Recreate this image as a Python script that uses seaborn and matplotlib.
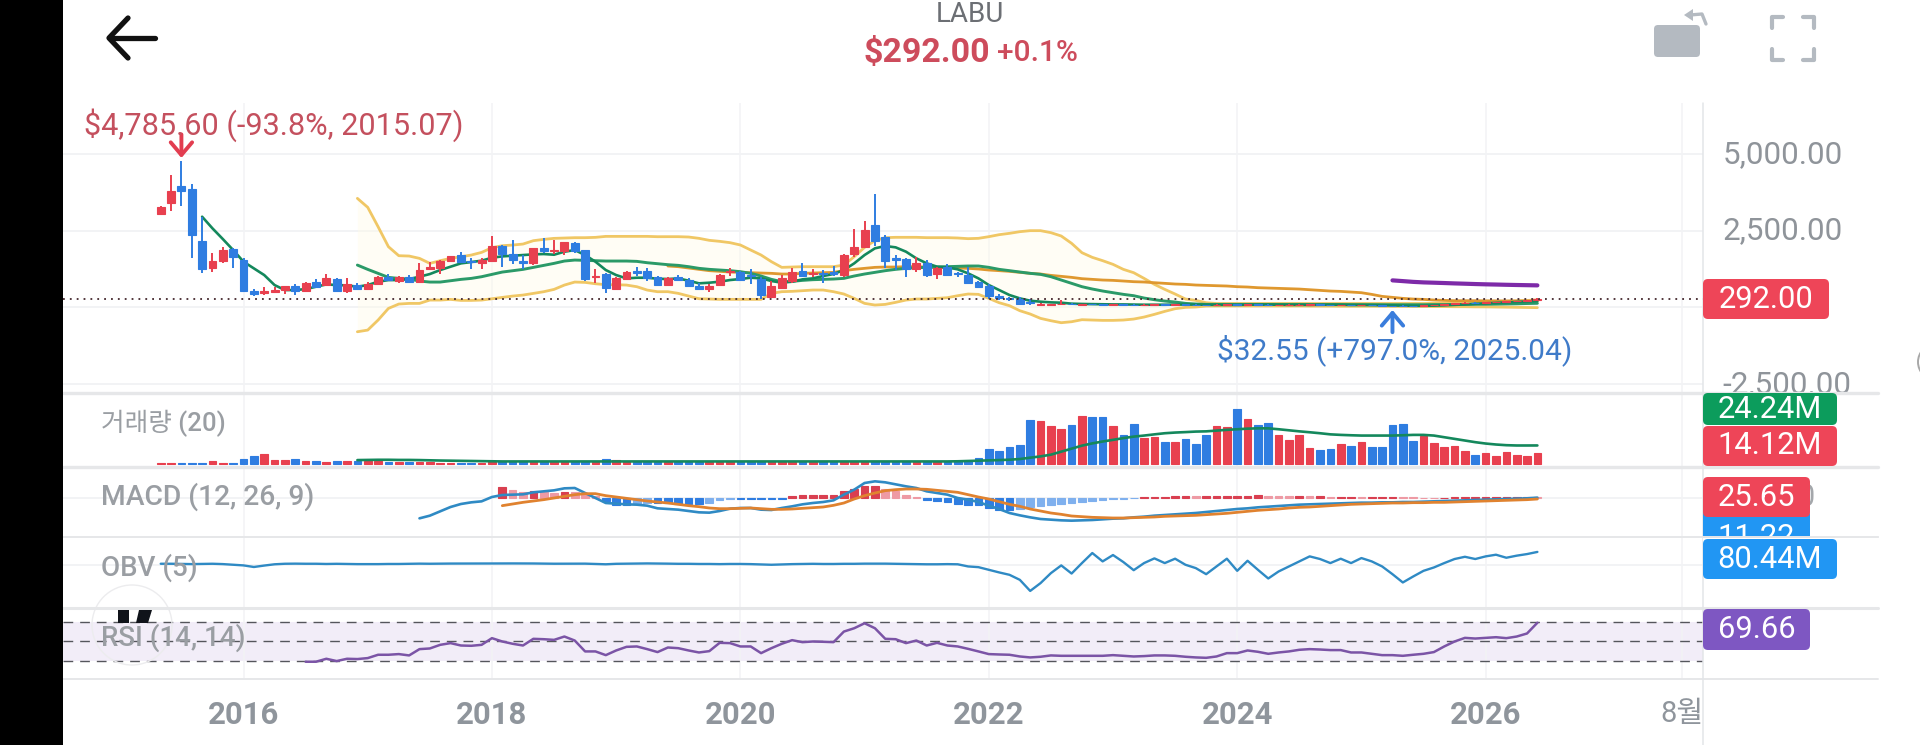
import numpy as np
import matplotlib
matplotlib.use("Agg")
import matplotlib.pyplot as plt
import seaborn as sns
from matplotlib.patches import Circle, FancyBboxPatch, Polygon, Rectangle
from matplotlib.transforms import ScaledTranslation

# x axis is months counted from 2016-01, every series below has its first month next to it
CANDLE_START = -8
OPEN = [3060, 3394, 3959, 3872, 2155, 1285, 1525, 1894,
        1546, 546, 459, 514, 568, 688, 546, 840, 731, 927,
        535, 742, 611, 763, 1003, 872, 1003, 829, 1242, 1274,
        1514, 1698, 1514, 1438, 1525, 2003, 1731, 1525, 1459, 1948,
        1829, 1829, 2112, 1861, 981, 1090, 590, 927, 1198, 1198,
        1003, 731, 1004, 895, 710, 591, 732, 1145, 1145, 1069,
        917, 352, 645, 873, 1178, 1091, 1134, 1145, 1047, 1732,
        1982, 2678, 2287, 1602, 1569, 1243, 1439, 1091, 1330, 1113,
        1058, 841, 710, 373, 308, 276, 167, 91, 95, 100,
        120, 95, 115, 100, 85, 115, 95, 85, 90, 105,
        90, 105, 90, 80, 75, 90, 110, 90, 110, 90,
        75, 85, 80, 85, 100, 80, 70, 85, 65, 80,
        65, 50, 55, 45, 45, 70, 90, 115, 135, 160,
        140, 170, 185, 200, 220, 246]
CLOSE = [3260, 3786, 3807, 2372, 1253, 1503, 1861, 1655,
         535, 427, 525, 568, 688, 535, 807, 677, 948, 535,
         753, 590, 774, 1001, 894, 992, 840, 1220, 1307, 1525,
         1666, 1481, 1470, 1557, 1992, 1753, 1557, 1448, 1927, 1840,
         1861, 2122, 1851, 938, 1024, 622, 959, 1155, 1133, 948,
         731, 970, 906, 700, 591, 710, 1058, 1189, 895, 1026,
         406, 710, 949, 1156, 1037, 1134, 1091, 1091, 1700, 1982,
         2526, 2178, 1526, 1547, 1243, 1450, 1058, 1297, 1058, 1080,
         808, 667, 363, 308, 265, 123, 134, 123, 120, 125,
         105, 115, 100, 90, 115, 95, 85, 95, 105, 90,
         105, 90, 80, 75, 90, 110, 95, 110, 90, 75,
         90, 95, 90, 100, 80, 75, 85, 70, 80, 65,
         50, 40, 45, 42, 70, 90, 115, 135, 160, 140,
         170, 190, 205, 220, 245, 292]
HIGH = [3320, 4318, 4785.6, 4014, 2959, 1764, 1981, 1927,
        1601, 600, 655, 677, 699, 753, 829, 927, 1090, 970,
        948, 785, 829, 1024, 1079, 1024, 1046, 1438, 1492, 1546,
        1688, 1818, 1622, 1601, 2329, 2035, 2199, 1709, 1948, 2275,
        2199, 2144, 2133, 1872, 1242, 1112, 981, 1198, 1307, 1274,
        1024, 1003, 1047, 949, 787, 754, 1091, 1276, 1200, 1243,
        1004, 873, 1058, 1297, 1460, 1243, 1221, 1363, 1732, 2569,
        2819, 3689, 2374, 1710, 1602, 1634, 1547, 1330, 1417, 1167,
        1330, 873, 765, 428, 352, 330, 276, 156, 130, 240,
        135, 120, 130, 115, 125, 125, 110, 105, 110, 115,
        110, 115, 100, 95, 100, 115, 120, 115, 120, 100,
        95, 100, 100, 105, 105, 90, 90, 95, 85, 90,
        75, 60, 65, 60, 75, 95, 120, 140, 165, 170,
        175, 195, 210, 225, 250, 310]
LOW = [3060, 3144, 3307, 1601, 1112, 1166, 1459, 1274,
       514, 372, 416, 503, 438, 416, 525, 655, 709, 525,
       481, 568, 590, 731, 862, 807, 807, 807, 1220, 1090,
       1481, 1438, 1253, 1253, 1503, 1329, 1416, 1242, 1394, 1764,
       1742, 1698, 1785, 872, 785, 481, 579, 894, 1024, 872,
       720, 709, 873, 678, 569, 515, 710, 1037, 873, 765,
       276, 341, 623, 787, 1004, 1004, 787, 1026, 982, 1656,
       1928, 2004, 1276, 1221, 1004, 1167, 1004, 928, 1047, 1004,
       765, 645, 265, 243, 221, 113, 91, 58, 90, 90,
       95, 85, 90, 85, 80, 85, 80, 75, 85, 85,
       85, 80, 75, 70, 70, 85, 85, 85, 80, 70,
       70, 80, 75, 80, 75, 70, 65, 65, 60, 60,
       45, 32.55, 35, 38, 42, 65, 85, 105, 125, 130,
       135, 160, 175, 195, 215, 240]

# volume in millions
VOLUME = [0.7, 0.7, 0.7, 0.7, 0.7, 4, 1, 1,
          6.6, 10.6, 13.2, 5.3, 5.3, 6.2, 4, 3.5, 2.6, 4,
          3.5, 3, 3.5, 3, 2.5, 2, 2, 2.5, 2.5, 1.5,
          1.5, 1.5, 1.5, 1.5, 2, 2, 2, 2, 2, 2,
          2, 2, 2.5, 2, 2, 6.2, 4.8, 2, 2.5, 2.5,
          2, 2, 2, 2, 2, 2, 2, 2, 2, 2,
          2.5, 3, 2.5, 2, 2, 2, 2, 2, 2.5, 2.5,
          2.5, 3, 2.5, 2.5, 2, 2.5, 2.5, 2, 2.5, 3,
          3.5, 7.9, 19.4, 17.2, 21.6, 24.2, 57.6, 56.3, 50.2, 46.2,
          51, 63.4, 62, 62, 50, 37.8, 52.4, 34.8, 35.2, 28.6,
          28.6, 32.6, 26.4, 38.3, 50.2, 48.4, 72.6, 59, 52, 54,
          38.3, 31.7, 38.3, 20.7, 18.5, 19.4, 26, 23.8, 28.6, 22.4,
          22.4, 51, 52.4, 30.8, 37.4, 27.3, 22, 22.9, 17.2, 11.9,
          14, 10.6, 15.8, 11.9, 10.6, 14.12]
VOLUME_MA_START = 11
VOLUME_MA = [4.8, 5, 5.2, 5.2, 5, 5, 4.8, 4.5, 4.2,
             4, 3.8, 3.6, 3.4, 3.2, 3, 3, 3, 3, 3,
             3, 3, 3, 3, 3, 3, 3, 3, 3, 3,
             3, 3, 3, 3, 3, 3, 3, 3, 3, 3,
             3, 3, 3, 3, 3, 3, 3, 3, 3, 3,
             3, 3, 3, 3, 3, 3, 3, 3, 3, 3.2,
             3.6, 4, 4.4, 4.8, 5.3, 6.2, 8, 9.7, 12, 16,
             20, 24, 27, 29.5, 31.7, 34, 36, 37.4, 39, 40.5,
             41.4, 42, 42.7, 43, 44, 45, 45.8, 46.6, 47, 47,
             45.8, 44.4, 43, 41.8, 40.5, 39, 38.3, 37.8, 37.4, 37.4,
             37.4, 37.4, 37.8, 38.3, 38.3, 37.4, 35.2, 33, 30.8, 28.6,
             26.8, 25.5, 24.6, 24.2, 24.2, 24.24]

SHORT_MA_START = -4
SHORT_MA = [2959, 2579, 2231, 1872,
            1492, 1274, 1057, 731, 568, 568, 600, 677, 753, 731,
            720, 677, 731, 840, 894, 894, 927, 1003, 1090, 1220,
            1329, 1438, 1481, 1525, 1622, 1666, 1688, 1709, 1731, 1742,
            1720, 1818, 1872, 1709, 1492, 1220, 1057, 948, 970, 970,
            938, 927, 949, 873, 787, 808, 841, 895, 928, 971,
            949, 863, 808, 841, 917, 949, 1026, 1091, 1221, 1439,
            1710, 1928, 2004, 1960, 1819, 1602, 1439, 1330, 1308, 1243,
            1113, 949, 732, 569, 406, 297, 221, 189, 167, 156,
            125, 115, 110, 105, 100, 100, 95, 90, 90, 90,
            95, 95, 95, 90, 85, 85, 85, 90, 95, 95,
            90, 85, 85, 85, 90, 90, 90, 85, 85, 80,
            75, 70, 60, 55, 55, 60, 70, 85, 100, 120,
            135, 150, 165, 180, 195, 215]

BAND_START = 11
MID_BAND = [1383, 1242, 1112, 981, 948, 927, 862, 829, 829,
            872, 916, 948, 1003, 1079, 1155, 1198, 1242, 1307, 1372,
            1438, 1514, 1546, 1536, 1525, 1514, 1514, 1514, 1503, 1459,
            1427, 1395, 1373, 1330, 1276, 1243, 1221, 1200, 1167, 1113,
            1026, 917, 841, 851, 884, 906, 917, 928, 949, 1026,
            1091, 1145, 1200, 1243, 1276, 1297, 1308, 1319, 1330, 1341,
            1352, 1352, 1308, 1243, 1200, 1156, 1113, 1080, 1004, 895,
            787, 678, 602, 537, 482, 428, 384, 308, 254, 210,
            178, 134, 113, 101, 100, 100, 100, 100, 100, 100,
            100, 100, 100, 95, 95, 95, 95, 90, 90, 90,
            90, 90, 90, 90, 90, 95, 95, 100, 100, 105,
            105, 110, 115, 120, 130, 137]
UPPER_BAND = [3557, 3264, 2633, 1981, 1688, 1677, 1601, 1438, 1525,
              1601, 1655, 1709, 1796, 1948, 2014, 2035, 2068, 2177, 2220,
              2253, 2264, 2275, 2275, 2286, 2318, 2318, 2318, 2318, 2318,
              2307, 2308, 2308, 2297, 2254, 2189, 2156, 2113, 2037, 1873,
              1710, 1493, 1308, 1319, 1330, 1330, 1330, 1330, 1384, 1656,
              1960, 2178, 2276, 2287, 2287, 2287, 2276, 2276, 2276, 2265,
              2243, 2254, 2308, 2373, 2417, 2471, 2504, 2504, 2439, 2330,
              2091, 1786, 1634, 1526, 1406, 1243, 1134, 949, 754, 591,
              439, 276, 232, 156, 130, 130, 130, 130, 130, 130,
              130, 130, 130, 130, 130, 130, 130, 130, 130, 130,
              130, 130, 130, 130, 130, 135, 140, 150, 160, 170,
              180, 190, 200, 215, 230, 250]
LOWER_BAND = [-791, -736, -410, -30, 112, 133, 133, 242, 242,
              264, 231, 231, 242, 285, 329, 372, 405, 459, 514,
              590, 731, 829, 818, 774, 742, 742, 731, 677, 568,
              514, 515, 460, 373, 286, 276, 265, 265, 265, 265,
              265, 460, 515, 526, 547, 569, 569, 515, 439, 297,
              134, 80, 101, 167, 243, 276, 276, 297, 319, 384,
              439, 428, 297, 156, 58, -105, -213, -355, -431, -496,
              -464, -398, -409, -420, -420, -409, -377, -312, -224, -127,
              -40, 4, 15, 47, 50, 50, 50, 50, 50, 50,
              50, 50, 50, 45, 45, 45, 40, 40, 40, 40,
              40, 35, 35, 35, 35, 30, 30, 25, 25, 20,
              20, 15, 10, 5, 0, -5]

ORANGE_MA_START = 41
ORANGE_MA = [1352, 1330, 1287, 1243, 1200, 1178, 1156, 1145, 1134,
             1123, 1113, 1091, 1091, 1113, 1123, 1134, 1145, 1200, 1243,
             1276, 1308, 1319, 1319, 1330, 1330, 1319, 1308, 1297, 1287,
             1276, 1254, 1221, 1200, 1178, 1145, 1113, 1091, 1047, 1015,
             982, 939, 917, 895, 884, 863, 841, 830, 808, 787,
             765, 754, 732, 721, 710, 700, 678, 667, 645, 634,
             623, 612, 601, 579, 558, 536, 525, 503, 482, 427,
             362, 330, 297, 275, 264, 243, 232, 221, 221, 221,
             218, 216, 214, 212, 211, 210]

PURPLE_MA_START = 111
PURPLE_MA = [884, 860, 835, 818, 808, 797, 785, 775, 764, 755, 748, 740, 733, 727, 721]

MACD_START = 17
MACD = [-610, -530, -400,
        -270, -180, -130, -100, 30, 90, 100, 110, 170, 200,
        230, 290, 300, 150, 0, -150, -170, -190, -200, -230,
        -310, -330, -350, -390, -430, -440, -390, -320, -300, -300,
        -350, -360, -300, -250, -190, -150, -120, -70, 100, 250,
        450, 500, 470, 410, 350, 300, 200, 150, 100, 0,
        -50, -120, -230, -330, -450, -520, -580, -630, -650, -670,
        -680, -670, -660, -640, -620, -610, -580, -560, -530, -510,
        -490, -470, -450, -420, -390, -360, -330, -310, -280, -260,
        -240, -220, -200, -190, -180, -170, -160, -150, -140, -140,
        -130, -130, -120, -120, -110, -100, -90, -80, -70, -60,
        -50, -40, -30, -20, -10, 11.22]
SIGNAL_START = 25
SIGNAL = [-230, -180, -130, -90, -50,
          0, 50, 100, 130, 130, 70, 30, -10, -50, -90,
          -120, -150, -190, -230, -260, -300, -320, -320, -310, -300,
          -320, -340, -340, -330, -310, -290, -270, -220, -150, -30,
          70, 150, 220, 250, 270, 270, 260, 230, 200, 170,
          100, 30, -30, -110, -190, -250, -330, -390, -450, -490,
          -540, -560, -580, -590, -600, -600, -590, -580, -570, -550,
          -540, -530, -520, -500, -480, -460, -430, -400, -370, -350,
          -330, -300, -280, -270, -250, -230, -210, -190, -180, -170,
          -160, -150, -150, -140, -140, -130, -130, -120, -110, -100,
          -90, -80, -70, -60, -50, -30]
HIST = [320, 250, 180, 200, 190,
        150, 190, 180, 130, 50, -100, -200, -220, -180, -150,
        -150, -150, -170, -170, -170, -150, -50, -20, -20, -20,
        -20, -20, -20, 60, 90, 90, 90, 100, 200, 270,
        370, 370, 270, 200, 90, 40, -70, -100, -130, -170,
        -200, -220, -300, -350, -350, -320, -270, -250, -220, -180,
        -150, -120, -80, -60, -40, -20, -10, 20, 30, 40,
        60, 60, 50, 50, 50, 50, 60, 70, 80, 70,
        60, 50, 60, 50, 50, 40, 40, 40, 30, 30,
        30, 30, 25, 20, 15, 10, 15, 30, 30, 30,
        30, 30, 30, 30, 30, 25.65]

OBV_START = -8
OBV = [6.3, 6.3, 5, 4.2, 5, 6.3, 4.2, 0,
       -4, -14, -5, 3, 6.3, 7, 6.3, 6.3, 5, 6,
       5, 4, 4, 4, 5, 5, 6, 7, 6.3, 7,
       7.5, 7.5, 7.5, 8, 8, 8.4, 8.4, 8.4, 8, 7,
       6.5, 6.5, 7, 7, 5, 3, 6, 7, 8, 8.4,
       8, 7, 6, 6, 5, 5, 4, 5, 5, 4,
       2, 0, 2, 4, 5, 6, 5, 5, 6, 6,
       7, 7, 7, 6, 5, 4, 3, 3, 4, 3,
       -10.5, -15, -31.5, -48, -63, -94.5, -164, -115, -52.5, -4,
       -55, 10.5, 73.5, 21, 61, 17, -34, 10.5, 40, 10.5,
       38, 0, -21, -59, -10.5, 38, -38, 25, -31.5, -86,
       -42, -10.5, 21, 52.5, 36, 10.5, 38, 10.5, 42, 21,
       -10.5, -59, -111, -73.5, -38, -17, 10.5, 36, 50, 36,
       52.5, 63, 44, 57, 67, 80.44]

RSI_START = 6
RSI = [28.8, 28.8, 31.9, 29.5,
       31.9, 31.6, 32.6, 36.1, 36.1, 36.8, 35.4, 42, 42.7, 46.5,
       48.3, 45.8, 45.5, 46.5, 53.5, 50, 47.6, 45.8, 52.8, 52.4,
       51.7, 55.2, 51, 39.6, 39.6, 35.7, 40.6, 44.4, 44.8, 42,
       38.9, 43.7, 43, 40.6, 38.5, 39.9, 48.6, 48.3, 44.8, 44.8,
       37.8, 43, 47.6, 51.4, 49.3, 50, 49.7, 49.3, 60.4, 63.9,
       69.1, 63.9, 52.8, 52.4, 48.3, 51, 45.8, 48.6, 45.8, 44.8,
       42.3, 39.6, 36.8, 36.4, 36.1, 34.3, 33.3, 34, 35.4, 35,
       35, 35, 35, 35, 35.7, 35, 34.3, 34.7, 35.4, 35.4,
       35, 34, 33.3, 32.9, 34.3, 37.8, 37.8, 40.6, 39.2, 37.1,
       38.5, 39.6, 41.3, 42, 41.6, 41, 41, 38.5, 38.5, 37.1,
       35.7, 35.7, 35, 36.1, 37.1, 38.9, 44.8, 50, 53.8, 53.1,
       53.8, 54.5, 53.5, 55.2, 58.4, 69.66]

LAST_PRICE = 292
LOW_MONTH = 111
HIGH_MONTH = -6

X_TICKS = [0, 24, 48, 72, 96, 120, 139]
X_LABELS = ["2016", "2018", "2020", "2022", "2024", "2026", "8월"]
PRICE_TICKS = [5000, 2500, 0, -2500]
PRICE_LABELS = ["5,000.00", "2,500.00", "", "-2,500.00"]

WIDTH, HEIGHT = 1920, 745
XLIM = (-17.44, 141.0)
RED, BLUE = "#e8404f", "#2f7de1"
PALE_RED, PALE_BLUE = "#ee9aa4", "#7fb0ee"
GRID = "#f2f3f5"
GREY = "#8f949a"
FONT = ["Roboto", "Noto Sans CJK KR", "DejaVu Sans"]


def months(start, values):
    return np.arange(start, start + len(values))


def panel(fig, top, bottom, ylim):
    """Axes placed by pixel rows of the picture"""
    ax = fig.add_axes([63 / WIDTH, 1 - bottom / HEIGHT, (1703 - 63) / WIDTH, (bottom - top) / HEIGHT])
    ax.set_xlim(*XLIM)
    ax.set_ylim(*ylim)
    ax.set_xticks(X_TICKS)
    ax.set_xticklabels([])
    ax.set_yticks([])
    ax.tick_params(length=0)
    ax.grid(axis="x", color=GRID, lw=1.1)
    ax.set_axisbelow(True)
    ax.patch.set_alpha(0)
    sns.despine(ax=ax, left=True, bottom=True)
    return ax


def line(ax, start, values, color, lw, z=4):
    sns.lineplot(x=months(start, values), y=values, color=color, lw=lw, errorbar=None, ax=ax, zorder=z)


def bars(ax, x, y, shades, palette):
    sns.barplot(x=x, y=y, hue=shades, palette=palette, native_scale=True, dodge=False,
                legend=False, errorbar=None, saturation=1, width=0.74, ax=ax, zorder=2)
    # tiny values still show as a dash
    for patch in ax.patches:
        patch.set_edgecolor(patch.get_facecolor())
        patch.set_linewidth(0.8)
    ax.set_xlim(*XLIM)
    ax.set_xlabel("")
    ax.set_ylabel("")


def draw_price(ax):
    x = months(CANDLE_START, CLOSE)
    op, cl, hi, lo = map(np.array, (OPEN, CLOSE, HIGH, LOW))
    colors = np.where(cl >= op, RED, BLUE)

    ax.set_yticks(PRICE_TICKS)
    ax.set_yticklabels(PRICE_LABELS, fontsize=22.6, color=GREY)
    ax.yaxis.tick_right()
    ax.tick_params(axis="y", length=0, pad=14)
    ax.grid(axis="y", color=GRID, lw=1.4)
    up = ScaledTranslation(0, 2 / 72, ax.figure.dpi_scale_trans)
    for label in ax.get_yticklabels():
        label.set_transform(label.get_transform() + up)

    band_x = months(BAND_START, MID_BAND)
    ax.fill_between(band_x, LOWER_BAND, UPPER_BAND, color="#fffbe8", alpha=0.4, lw=0, zorder=1)
    line(ax, BAND_START, UPPER_BAND, "#f0c765", 2.0, 2)
    line(ax, BAND_START, LOWER_BAND, "#f0c765", 2.0, 2)

    line(ax, ORANGE_MA_START, ORANGE_MA, "#df982f", 2.0)
    line(ax, BAND_START, MID_BAND, "#2b9a68", 2.1)
    line(ax, SHORT_MA_START, SHORT_MA, "#14885c", 1.9)
    line(ax, PURPLE_MA_START, PURPLE_MA, "#7d2aa8", 3.0)

    # candles sit over the moving averages
    ax.vlines(x, lo, hi, colors=colors, lw=1.4, zorder=5)
    ax.bar(x, np.abs(cl - op), bottom=np.minimum(op, cl), width=0.76, color=colors,
           edgecolor=colors, lw=0.8, zorder=5)

    ax.axhline(LAST_PRICE, color="#43262c", lw=1.3, ls=(0, (1, 2.8)), zorder=6)

    ax.annotate("", xy=(HIGH_MONTH, 4873), xytext=(0, 17), textcoords="offset points",
                annotation_clip=False,
                arrowprops=dict(arrowstyle="->,head_width=0.55,head_length=0.65", color="#e23d50", lw=2.8,
                                shrinkA=0, shrinkB=0, mutation_scale=14))
    ax.annotate("", xy=(LOW_MONTH, -81), xytext=(0, -16), textcoords="offset points",
                annotation_clip=False,
                arrowprops=dict(arrowstyle="->,head_width=0.55,head_length=0.65", color="#3a7ddc", lw=2.8,
                                shrinkA=0, shrinkB=0, mutation_scale=14))


def draw_volume(ax):
    shades = np.where(np.array(CLOSE) >= np.array(OPEN), "up", "down")
    bars(ax, months(CANDLE_START, VOLUME), VOLUME, shades, {"up": RED, "down": BLUE})
    line(ax, VOLUME_MA_START, VOLUME_MA, "#14885c", 1.9)


def draw_macd(ax):
    ax.axhline(0, color=GRID, lw=1.4, zorder=0)
    hist = np.array(HIST, dtype=float)
    grows = np.abs(hist) >= np.abs(np.r_[hist[0], hist[:-1]])
    shades = np.where(hist >= 0, np.where(grows, "r", "pr"), np.where(grows, "b", "pb"))
    bars(ax, months(SIGNAL_START, HIST), HIST, shades,
         {"r": "#d93f50", "pr": PALE_RED, "b": BLUE, "pb": PALE_BLUE})
    line(ax, MACD_START, MACD, "#2f8ac4", 1.9)
    line(ax, SIGNAL_START, SIGNAL, "#e0822f", 2.0)


def draw_obv(ax):
    ax.axhline(0, color=GRID, lw=1.4, zorder=0)
    line(ax, OBV_START, OBV, "#2f8ac4", 1.7)


def draw_rsi(ax):
    ax.axhspan(30, 70, color="#f2edf8", lw=0, zorder=0)
    for level in (70, 50, 30):
        ax.axhline(level, color="#55565c", lw=1.0, ls=(0, (7, 5)), zorder=1)
    line(ax, RSI_START, RSI, "#7b54a6", 1.8)
    ax.set_xticklabels(X_LABELS, fontsize=22.4, color="#8f959c", fontweight="bold")
    ax.tick_params(axis="x", pad=15)
    ax.get_xticklabels()[-1].set_fontweight("normal")
    ax.get_xticklabels()[-1].set_fontsize(21)


def label_box(over, x0, x1, y0, y1, color, text, text_y=None, z=6):
    over.add_patch(FancyBboxPatch((x0, y0), x1 - x0, y1 - y0, boxstyle="round,pad=0,rounding_size=5",
                                  fc=color, ec="none", zorder=z))
    over.text((x0 + x1) / 2, text_y if text_y else (y0 + y1) / 2, text, color="white", fontsize=22.2,
              ha="center", va="center", zorder=z + 1)


def draw_overlay(fig):
    over = fig.add_axes([0, 0, 1, 1], zorder=10)
    over.set_xlim(0, WIDTH)
    over.set_ylim(HEIGHT, 0)
    over.axis("off")

    # separators between panels and right border
    for y, lw in [(393, 2.4), (467, 2.4), (537, 1.4), (608, 2.2), (679, 1.4)]:
        over.plot([63, 1878], [y, y], color="#e6e7e9", lw=lw, zorder=1)
    over.plot([1703, 1703], [103, HEIGHT], color="#e3e5e8", lw=1.1, zorder=1)

    # header
    over.text(970, 15, "LABU", fontsize=20, color="#6c6f74", ha="center", va="center")
    over.text(990, 53, "$292.00", fontsize=24.4, color="#cd4c5c", ha="right", va="center", fontweight="bold")
    over.text(997, 53, "+0.1%", fontsize=21.5, color="#cd4c5c", ha="left", va="center", fontweight="medium")

    # back arrow
    over.plot([110, 155], [38, 38], color="#111111", lw=3.8, solid_capstyle="round")
    over.plot([128, 109, 128], [18, 38, 58], color="#111111", lw=3.8, solid_capstyle="round",
              solid_joinstyle="round")

    # rotate icon
    over.add_patch(FancyBboxPatch((1654, 25), 46, 32, boxstyle="round,pad=0,rounding_size=4", fc="#b4bac1", ec="none"))
    over.plot([1690, 1702, 1706], [15, 14, 24], color="#b4bac1", lw=2.4)
    over.add_patch(Polygon([[1684, 15], [1693, 9], [1693, 21]], fc="#b4bac1", ec="none"))

    # full screen icon
    for cx, cy, dx, dy in [(1772, 17, 1, 1), (1814, 17, -1, 1), (1772, 60, 1, -1), (1814, 60, -1, -1)]:
        over.plot([cx + dx * 11, cx, cx], [cy, cy, cy + dy * 11], color="#b4bac1", lw=3.0,
                  solid_capstyle="round", solid_joinstyle="round")

    # annotations of high and low
    over.text(84, 125, "$4,785.60 (-93.8%, 2015.07)", fontsize=22.1, color="#c4505e", va="center")
    over.text(1217, 350, "$32.55 (+797.0%, 2025.04)", fontsize=21.5, color="#3f7bc9", va="center")

    # panel names
    names = [("거래량 (20)", 423, 18.5), ("MACD (12, 26, 9)", 497, 20.3), ("OBV (5)", 568, 20), ("RSI (14, 14)", 638, 20)]
    for name, y, size in names:
        over.text(101, y, name, fontsize=size, color="#9a9ea3", va="center", fontweight="medium")

    # floating button leftovers on the screenshot
    over.add_patch(Circle((132, 625), 40, fc="none", ec="#ececee", lw=1, zorder=0))
    over.add_patch(Polygon([[118, 610], [129, 610], [129, 623], [118, 623]], fc="#10131a", ec="none"))
    over.add_patch(Polygon([[139, 610], [152, 610], [148, 623], [136, 623]], fc="#10131a", ec="none"))
    over.add_patch(Circle((1936, 362), 18, fc="none", ec="#a8a8a8", lw=1.4))

    # value labels on the right
    over.text(1806, 498, "0", fontsize=22, color="#a4a7ab", ha="center", va="center", zorder=5)
    label_box(over, 1703, 1829, 279, 319, "#ee4558", "292.00")
    label_box(over, 1703, 1837, 393, 425, "#0c9c5c", "24.24M", 409)
    label_box(over, 1703, 1837, 426, 466, "#ee4558", "14.12M")
    label_box(over, 1703, 1810, 510, 545, "#2196f3", "11.22", 537)
    over.add_patch(Rectangle((1703, 538), 140, 10, fc="white", ec="none", zorder=8))
    over.plot([1703, 1878], [537, 537], color="#e6e7e9", lw=1.4, zorder=8)
    label_box(over, 1703, 1810, 477, 517, "#ee4558", "25.65", z=9)
    label_box(over, 1703, 1837, 539, 579, "#2196f3", "80.44M", z=9)
    label_box(over, 1703, 1810, 609, 650, "#7e57c2", "69.66")

    # black strip at the left of the screenshot
    over.add_patch(Rectangle((0, 0), 63, HEIGHT, fc="black", ec="none", zorder=20))


def main():
    sns.set_theme(style="white")
    plt.rcParams["font.family"] = FONT

    assert len(OPEN) == len(CLOSE) == len(HIGH) == len(LOW) == len(VOLUME) == 134
    fig = plt.figure(figsize=(WIDTH / 100, HEIGHT / 100), dpi=100, facecolor="white")

    draw_price(panel(fig, 103, 393, (-2787, 6665)))
    draw_volume(panel(fig, 393, 467, (-4.4, 94)))
    draw_macd(panel(fig, 467, 537, (-1170, 930)))
    draw_obv(panel(fig, 537, 608, (-271, 174)))
    draw_rsi(panel(fig, 608, 679, (10.7, 85.1)))
    draw_overlay(fig)

    fig.savefig("out.png", dpi=100, facecolor="white")


if __name__ == "__main__":
    main()
